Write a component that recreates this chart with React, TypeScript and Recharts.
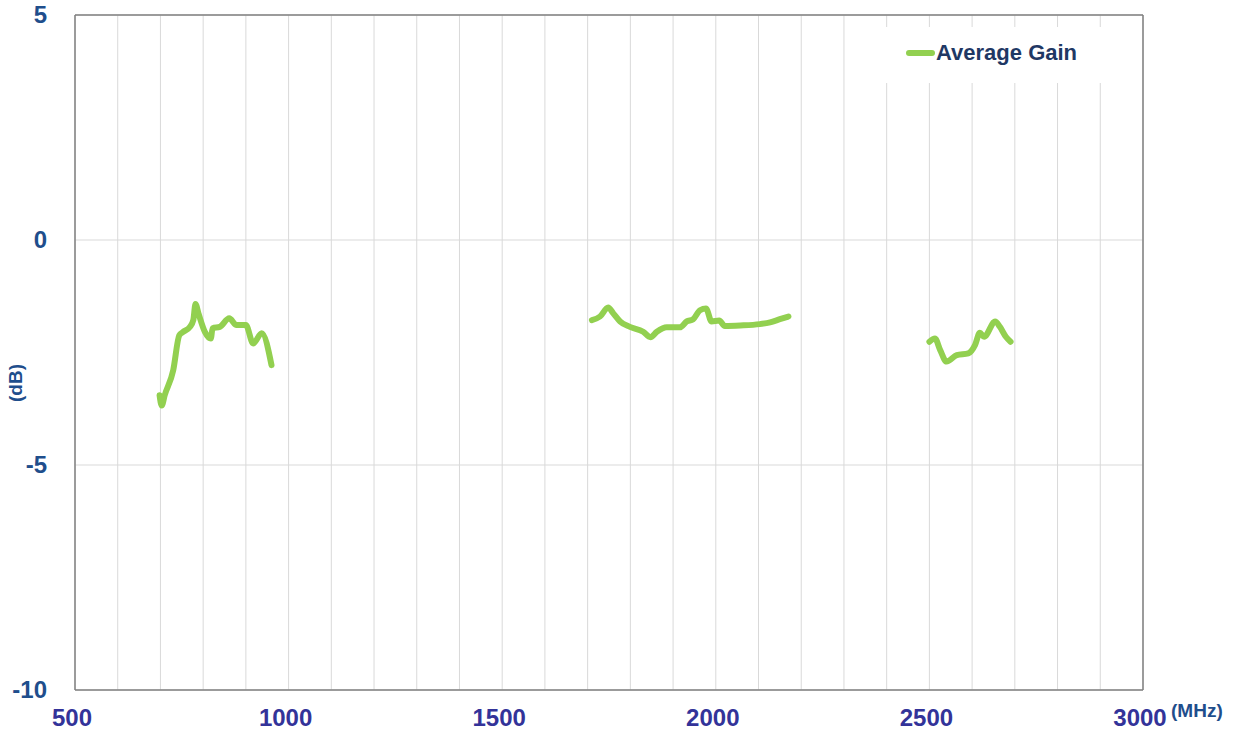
import {
  LineChart,
  Line,
  XAxis,
  YAxis,
  CartesianGrid,
  ReferenceLine,
} from "recharts";

// Frequency (MHz) and gain (dB) per band
const lowBandMHz = [698, 703, 710, 730, 744, 752, 769, 777, 782, 789, 804, 818, 822, 839, 861, 878, 900, 917, 937, 960];
const lowBandGain = [-3.45, -3.68, -3.45, -2.89, -2.12, -2.05, -1.93, -1.78, -1.42, -1.63, -2.04, -2.19, -1.96, -1.93, -1.74, -1.89, -1.89, -2.3, -2.07, -2.78];

const midBandMHz = [1710, 1729, 1748, 1760, 1776, 1799, 1830, 1847, 1862, 1885, 1916, 1932, 1947, 1963, 1977, 1990, 2008, 2021, 2057, 2103, 2127, 2150, 2170];
const midBandGain = [-1.78, -1.7, -1.5, -1.63, -1.81, -1.93, -2.04, -2.16, -2.04, -1.94, -1.94, -1.81, -1.76, -1.56, -1.52, -1.81, -1.79, -1.91, -1.9, -1.87, -1.83, -1.76, -1.7];

const highBandMHz = [2500, 2513, 2525, 2540, 2564, 2591, 2607, 2618, 2628, 2654, 2665, 2679, 2690];
const highBandGain = [-2.26, -2.19, -2.44, -2.7, -2.56, -2.52, -2.33, -2.06, -2.15, -1.81, -1.93, -2.15, -2.26];

const xTicks = [500, 600, 700, 800, 900, 1000, 1100, 1200, 1300, 1400, 1500, 1600, 1700, 1800, 1900, 2000, 2100, 2200, 2300, 2400, 2500, 2600, 2700, 2800, 2900, 3000];
const xLabels = [500, 1000, 1500, 2000, 2500, 3000];
const yTicks = [-10, -5, 0, 5];

const GREEN = "#92D050";
const FRAME = "#808080";
const FONT = "'Liberation Sans', Arial, sans-serif";

const toRows = (freqs: number[], gains: number[]) =>
  freqs.map((freq, i) => ({ freq, gain: gains[i] }));

const lowBand = toRows(lowBandMHz, lowBandGain);
const midBand = toRows(midBandMHz, midBandGain);
const highBand = toRows(highBandMHz, highBandGain);

function FreqTick(props: any) {
  const { x, y, payload } = props;
  if (!xLabels.includes(payload.value)) return <g />;
  return (
    <text
      x={x - 3}
      y={y + 28}
      textAnchor="middle"
      fontFamily={FONT}
      fontWeight="bold"
      fontSize={24}
      fill="#333399"
    >
      {payload.value}
    </text>
  );
}

function GainTick(props: any) {
  const { y, payload } = props;
  return (
    <text
      x={47}
      y={y + 8}
      textAnchor="end"
      fontFamily={FONT}
      fontWeight="bold"
      fontSize={24}
      fill="#1F4E8C"
    >
      {payload.value}
    </text>
  );
}

export default function App() {
  return (
    <div
      style={{
        position: "absolute",
        left: 0,
        top: 0,
        width: 1235,
        height: 737,
        background: "#fff",
      }}
    >
      <LineChart
        width={1235}
        height={737}
        margin={{ top: 15, right: 92, bottom: 0, left: 0 }}
      >
        <CartesianGrid stroke="#d9d9d9" strokeWidth={1} />
        <XAxis
          type="number"
          dataKey="freq"
          domain={[500, 3000]}
          ticks={xTicks}
          interval={0}
          height={47}
          tickLine={false}
          axisLine={{ stroke: FRAME, strokeWidth: 1.5 }}
          tick={FreqTick}
          allowDataOverflow
        />
        <YAxis
          type="number"
          domain={[-10, 5]}
          ticks={yTicks}
          interval={0}
          width={75}
          tickLine={false}
          axisLine={{ stroke: FRAME, strokeWidth: 1.5 }}
          tick={GainTick}
        />
        <ReferenceLine y={5} stroke={FRAME} strokeWidth={1.5} />
        <ReferenceLine x={3000} stroke={FRAME} strokeWidth={1.5} />
        {[lowBand, midBand, highBand].map((band, i) => (
          <Line
            key={i}
            data={band}
            dataKey="gain"
            type="monotone"
            stroke={GREEN}
            strokeWidth={6}
            strokeLinecap="round"
            strokeLinejoin="round"
            dot={false}
            activeDot={false}
            isAnimationActive={false}
          />
        ))}
        <text
          x={22}
          y={383}
          transform="rotate(-90 22 383)"
          textAnchor="middle"
          fontFamily={FONT}
          fontWeight="bold"
          fontSize={19}
          fill="#1F4E8C"
        >
          (dB)
        </text>
        <text
          x={1171}
          y={717}
          fontFamily={FONT}
          fontWeight="bold"
          fontSize={19}
          fill="#1F4E8C"
        >
          (MHz)
        </text>
      </LineChart>
      <div
        style={{
          position: "absolute",
          left: 882,
          top: 27,
          width: 252,
          height: 56,
          background: "#fff",
          fontFamily: FONT,
        }}
      >
        <div
          style={{
            position: "absolute",
            left: 24,
            top: 23,
            width: 29,
            height: 6,
            borderRadius: 3,
            background: GREEN,
          }}
        />
        <div
          style={{
            position: "absolute",
            left: 54,
            top: 14,
            fontSize: 22,
            fontWeight: "bold",
            lineHeight: "24px",
            color: "#1F3864",
            whiteSpace: "nowrap",
          }}
        >
          Average Gain
        </div>
      </div>
    </div>
  );
}
